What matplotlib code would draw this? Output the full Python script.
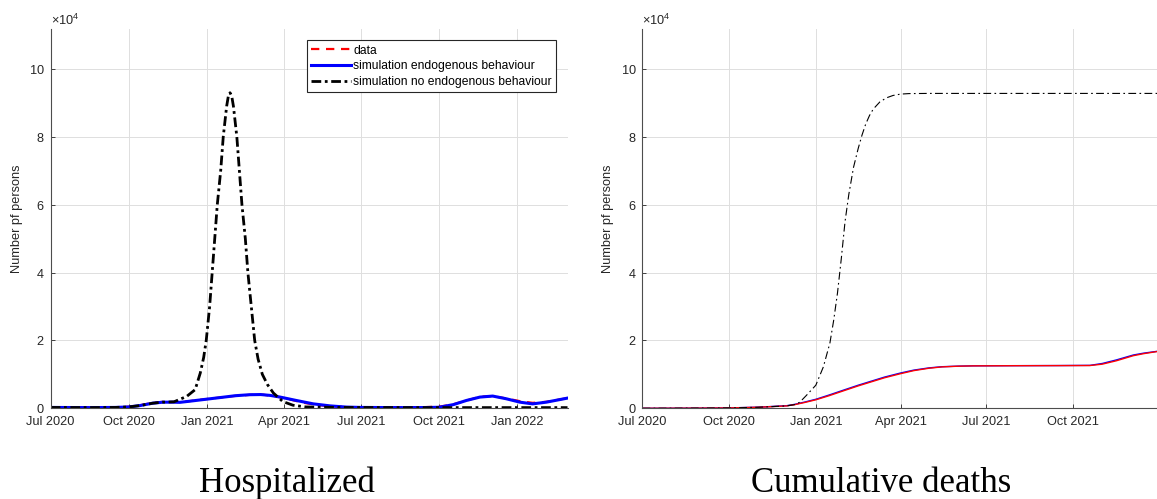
import numpy as np
import pandas as pd
import matplotlib
matplotlib.use('Agg')
import matplotlib.pyplot as plt
import matplotlib.dates as mdates

plt.rcParams['font.family'] = ['Liberation Sans', 'DejaVu Sans']
plt.rcParams['mathtext.fontset'] = 'custom'
plt.rcParams['mathtext.rm'] = 'Liberation Sans'
plt.rcParams['mathtext.it'] = 'Liberation Sans:italic'

# hospitalized, persons
hosp_data_dates = ['2020-07-01', '2020-08-15', '2020-09-15', '2020-10-01', '2020-10-14', '2020-10-29',
                   '2020-11-10', '2020-11-22', '2020-12-05', '2020-12-20', '2021-01-10', '2021-02-01',
                   '2021-02-20', '2021-03-08', '2021-03-25', '2021-04-10', '2021-04-25', '2021-05-10',
                   '2021-05-26', '2021-06-14', '2021-07-01', '2021-08-15', '2021-09-15', '2021-10-01',
                   '2021-10-15', '2021-11-01', '2021-11-18', '2021-12-03', '2021-12-19', '2022-01-04',
                   '2022-01-19', '2022-02-04', '2022-03-01']
hosp_data = [300, 250, 300, 450, 900, 1600, 1900, 1850, 1900, 2400, 3000, 3600, 3950, 4000, 3400, 2500,
             1600, 1000, 600, 350, 300, 300, 350, 500, 1000, 2200, 3400, 3600, 2900, 2100, 1600, 1900, 3000]

hosp_endo_dates = ['2020-07-01', '2020-08-15', '2020-09-15', '2020-10-01', '2020-10-14', '2020-10-29',
                   '2020-11-10', '2020-11-22', '2020-11-30', '2020-12-12', '2021-01-01', '2021-01-21',
                   '2021-02-03', '2021-02-20', '2021-03-05', '2021-03-16', '2021-03-28', '2021-04-16',
                   '2021-05-06', '2021-05-26', '2021-06-14', '2021-07-01', '2021-08-15', '2021-09-15',
                   '2021-10-01', '2021-10-18', '2021-11-02', '2021-11-18', '2021-12-03', '2021-12-19',
                   '2022-01-04', '2022-01-19', '2022-02-04', '2022-03-01']
hosp_endo = [250, 200, 250, 400, 800, 1500, 1800, 1800, 1750, 2100, 2700, 3300, 3700, 4000, 4050, 3800,
             3300, 2300, 1300, 700, 350, 250, 200, 220, 300, 1100, 2300, 3300, 3600, 2800, 1800, 1300,
             1800, 3000]

hosp_noendo_dates = ['2020-07-01', '2020-08-15', '2020-09-15', '2020-10-01', '2020-10-14', '2020-10-29',
                     '2020-11-10', '2020-11-23', '2020-12-08', '2020-12-18', '2020-12-24', '2020-12-28',
                     '2020-12-31', '2021-01-04', '2021-01-07', '2021-01-10', '2021-01-13', '2021-01-17',
                     '2021-01-20', '2021-01-24', '2021-01-26', '2021-01-28', '2021-01-30', '2021-02-01',
                     '2021-02-05', '2021-02-08', '2021-02-11', '2021-02-15', '2021-02-18', '2021-02-22',
                     '2021-02-26', '2021-03-02', '2021-03-07', '2021-03-13', '2021-03-20', '2021-03-31',
                     '2021-04-12', '2021-04-27', '2021-06-01', '2021-09-01', '2022-03-01']
hosp_noendo = [250, 200, 250, 400, 800, 1500, 1800, 1900, 3500, 5500, 10400, 15000, 20000, 30000, 40000,
               50000, 60000, 70000, 80000, 89000, 92000, 93000, 92000, 89000, 80000, 70000, 60000, 50000,
               40000, 30000, 20000, 14500, 10000, 7000, 4500, 2000, 900, 400, 250, 200, 200]

# cumulative deaths, persons
deaths_data_dates = ['2020-07-01', '2020-08-01', '2020-09-01', '2020-10-01', '2020-11-01', '2020-12-01',
                     '2020-12-10', '2020-12-20', '2021-01-01', '2021-01-15', '2021-02-01', '2021-02-15',
                     '2021-03-01', '2021-03-15', '2021-04-01', '2021-04-15', '2021-05-01', '2021-05-15',
                     '2021-06-01', '2021-06-17', '2021-08-01', '2021-09-15', '2021-10-19', '2021-11-01',
                     '2021-11-16', '2021-12-04', '2021-12-15', '2021-12-31']
deaths_data = [0, 20, 50, 100, 300, 700, 1100, 1700, 2500, 3700, 5300, 6600, 7800, 9000, 10200, 11100,
               11800, 12200, 12400, 12500, 12550, 12580, 12600, 13000, 14000, 15500, 16100, 16800]
deaths_endo = [0, 20, 50, 110, 320, 760, 1180, 1820, 2650, 3900, 5500, 6800, 8000, 9200, 10400, 11250,
               11900, 12250, 12420, 12510, 12560, 12590, 12650, 13200, 14250, 15700, 16250, 16850]

deaths_noendo_dates = ['2020-07-01', '2020-08-01', '2020-09-01', '2020-10-01', '2020-11-01', '2020-12-01',
                       '2020-12-10', '2020-12-15', '2020-12-22', '2021-01-01', '2021-01-09', '2021-01-16',
                       '2021-01-20', '2021-01-24', '2021-01-28', '2021-02-01', '2021-02-05', '2021-02-10',
                       '2021-02-15', '2021-02-19', '2021-02-23', '2021-02-27', '2021-03-03', '2021-03-10',
                       '2021-03-17', '2021-03-24', '2021-04-01', '2021-04-10', '2021-05-01', '2021-12-31']
deaths_noendo = [0, 20, 50, 100, 300, 700, 1100, 1800, 3800, 6800, 12200, 19300, 26000, 34000, 44000,
                 55000, 63000, 71000, 76600, 80500, 83800, 86300, 88200, 90300, 91500, 92200, 92600,
                 92750, 92800, 92800]

hosp_xlim = ('2020-07-01', '2022-03-01')
deaths_xlim = ('2020-07-01', '2021-12-31')

AX_COLOR = '#262626'
GRID_COLOR = '#dedede'
FS = 9.2
LEG_FS = 8.7


def style_axes(ax, xlim):
    ax.set_xlim(pd.to_datetime(xlim[0]), pd.to_datetime(xlim[1]))
    ax.set_ylim(0, 1.117e5)
    ax.set_yticks(np.arange(0, 1.01e5, 2e4))
    ax.ticklabel_format(axis='y', style='sci', scilimits=(4, 4), useMathText=True)
    ax.yaxis.get_offset_text().set_fontsize(FS)
    ax.yaxis.get_offset_text().set_color(AX_COLOR)
    ax.xaxis.set_major_locator(mdates.MonthLocator(bymonth=[1, 4, 7, 10]))
    ax.xaxis.set_major_formatter(mdates.DateFormatter('%b %Y'))
    ax.grid(True, color=GRID_COLOR, linewidth=0.7)
    ax.set_axisbelow(True)
    for side in ['top', 'right']:
        ax.spines[side].set_visible(False)
    for side in ['left', 'bottom']:
        ax.spines[side].set_color('#4d4d4d')
        ax.spines[side].set_linewidth(0.8)
    ax.tick_params(direction='in', length=3, width=0.6, colors=AX_COLOR, labelsize=FS)
    ax.tick_params(axis='x', pad=5.5)
    ax.tick_params(axis='y', pad=4.5)
    ax.set_ylabel('Number pf persons', fontsize=FS, color=AX_COLOR)
    ax.yaxis.set_label_coords(-0.053, 0.5)


fig = plt.figure(figsize=(11.57, 4.99), dpi=100)
ax1 = fig.add_axes([0.0438, 0.1818, 0.4467, 0.7595])
ax2 = fig.add_axes([0.5553, 0.1818, 0.4462, 0.7595])

# Hospitalized
ax1.plot(pd.to_datetime(hosp_data_dates), hosp_data, color='red', linewidth=1.6,
         linestyle=(0, (3.75, 3)), label='data')
ax1.plot(pd.to_datetime(hosp_endo_dates), hosp_endo, color='blue', linewidth=2.2,
         label='simulation endogenous behaviour')
ax1.plot(pd.to_datetime(hosp_noendo_dates), hosp_noendo, color='black', linewidth=2.0,
         linestyle=(0, (3.5, 1.3, 1, 1.3)), label='simulation no endogenous behaviour')
style_axes(ax1, hosp_xlim)
leg = ax1.legend(loc='upper right', bbox_to_anchor=(0.978, 0.971), borderaxespad=0, fontsize=LEG_FS,
                 handlelength=3.3, handletextpad=0.2, labelspacing=0.32, borderpad=0.35,
                 fancybox=False, framealpha=1)
leg.get_frame().set_edgecolor(AX_COLOR)
leg.get_frame().set_linewidth(0.8)

# Cumulative deaths
ax2.plot(pd.to_datetime(deaths_data_dates), deaths_endo, color='blue', linewidth=1.0)
ax2.plot(pd.to_datetime(deaths_data_dates), deaths_data, color='red', linewidth=1.0)
ax2.plot(pd.to_datetime(deaths_noendo_dates), deaths_noendo, color='black', linewidth=0.8,
         linestyle=(0, (7, 3, 1.5, 3)))
style_axes(ax2, deaths_xlim)
ax2.yaxis.set_label_coords(-0.055, 0.5)

fig.text(287 / 1157, 0.0146, 'Hospitalized', family='Liberation Serif', fontsize=25,
         ha='center', va='baseline')
fig.text(881 / 1157, 0.0146, 'Cumulative deaths', family='Liberation Serif', fontsize=25,
         ha='center', va='baseline')

fig.savefig('out.png', dpi=100)
